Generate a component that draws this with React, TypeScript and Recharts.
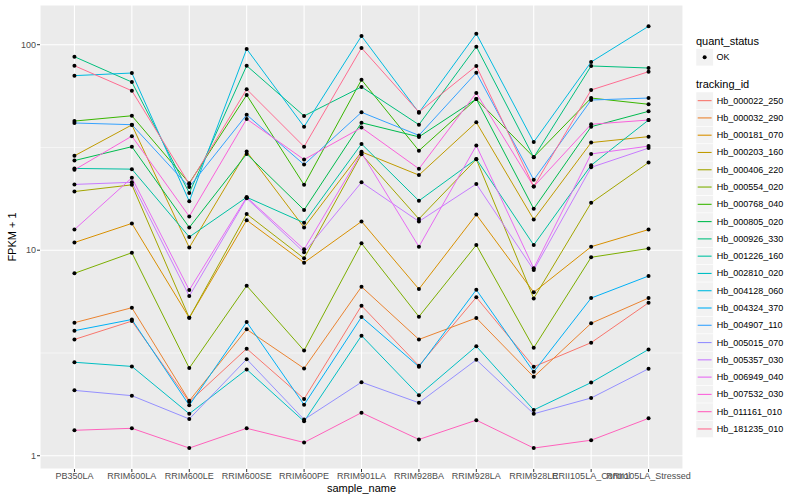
import { CartesianGrid, Line, LineChart, ReferenceLine, XAxis, YAxis } from "recharts";

const SAMPLES = [
  "PB350LA", "RRIM600LA", "RRIM600LE", "RRIM600SE", "RRIM600PE", "RRIM901LA",
  "RRIM928BA", "RRIM928LA", "RRIM928LE", "RRII105LA_Control", "RRII105LA_Stressed",
];
const SAMPLE_TICKS = [0, 1, 2, 3, 4, 5, 6, 7, 8, 9, 10];
const Y_TICKS = [1, 10, 100];
const Y_MINOR = [3.162, 31.62];

const TRACKING_IDS = [
  "Hb_000022_250", "Hb_000032_290", "Hb_000181_070", "Hb_000203_160", "Hb_000406_220",
  "Hb_000554_020", "Hb_000768_040", "Hb_000805_020", "Hb_000926_330", "Hb_001226_160",
  "Hb_002810_020", "Hb_004128_060", "Hb_004324_370", "Hb_004907_110", "Hb_005015_070",
  "Hb_005357_030", "Hb_006949_040", "Hb_007532_030", "Hb_011161_010", "Hb_181235_010",
];

const COLORS = [
  "#F8766D", "#EA8331", "#D89000", "#C09B00", "#A3A500",
  "#7CAE00", "#39B600", "#00BB4E", "#00BF7D", "#00C1A3",
  "#00BFC4", "#00BAE0", "#00B0F6", "#35A2FF", "#9590FF",
  "#C77CFF", "#E76BF3", "#FA62DB", "#FF62BC", "#FF6C91",
];

// FPKM + 1 per sample
const hb000022 = [3.68, 4.52, 1.83, 3.32, 1.89, 5.37, 2.74, 5.9, 2.71, 3.55, 5.55];
const hb000032 = [4.44, 5.25, 1.85, 4.12, 2.66, 6.64, 3.68, 4.68, 2.42, 4.41, 5.85];
const hb000181 = [10.9, 13.5, 4.69, 14.0, 8.7, 13.8, 6.47, 14.9, 6.24, 10.4, 12.6];
const hb000203 = [28.8, 40.7, 10.3, 30.2, 12.9, 30.1, 23.2, 41.9, 14.1, 33.4, 35.7];
const hb000406 = [19.3, 20.8, 4.69, 15.0, 9.13, 29.3, 14.2, 27.7, 5.83, 17.0, 26.7];
const hb000554 = [7.72, 9.72, 2.67, 6.72, 3.25, 10.8, 4.75, 10.6, 3.35, 9.24, 10.2];
const hb000768 = [42.5, 45.1, 21.2, 56.9, 20.8, 67.5, 30.5, 54.4, 28.4, 55.0, 51.3];
const hb000805 = [27.3, 31.9, 12.9, 29.4, 15.7, 41.7, 35.6, 54.4, 15.9, 39.9, 47.4];
const hb000926 = [87.4, 65.8, 19.0, 79.0, 45.0, 62.3, 40.8, 97.8, 28.3, 78.8, 77.0];
const hb001226 = [25.0, 24.8, 11.6, 18.1, 13.6, 32.9, 17.4, 27.8, 10.6, 25.9, 43.0];
const hb002810 = [2.85, 2.72, 1.6, 2.63, 1.47, 3.84, 1.97, 3.41, 1.67, 2.27, 3.29];
const hb004128 = [70.7, 72.8, 17.3, 95.3, 39.9, 110.2, 46.7, 113.1, 33.6, 82.4, 122.9];
const hb004324 = [4.06, 4.6, 1.76, 4.47, 1.77, 4.73, 2.71, 6.42, 2.56, 5.85, 7.49];
const hb004907 = [41.6, 40.8, 20.3, 45.6, 26.1, 46.9, 36.2, 73.1, 22.0, 53.8, 55.0];
const hb005015 = [2.08, 1.96, 1.51, 2.95, 1.5, 2.28, 1.81, 2.93, 1.6, 1.91, 2.65];
const hb005357 = [20.9, 21.4, 5.98, 17.9, 9.77, 21.4, 13.8, 21.0, 8.01, 25.3, 31.4];
const hb006949 = [12.6, 22.5, 6.4, 18.1, 10.1, 29.8, 10.4, 32.3, 8.17, 29.4, 32.1];
const hb007532 = [24.6, 35.9, 14.6, 43.5, 27.6, 39.5, 24.9, 58.2, 20.4, 41.0, 43.0];
const hb011161 = [1.33, 1.36, 1.09, 1.36, 1.16, 1.62, 1.2, 1.49, 1.09, 1.19, 1.52];
const hb181235 = [79.0, 59.7, 21.0, 60.7, 31.9, 96.4, 47.0, 78.8, 20.4, 60.2, 73.9];

const SERIES = [
  hb000022, hb000032, hb000181, hb000203, hb000406,
  hb000554, hb000768, hb000805, hb000926, hb001226,
  hb002810, hb004128, hb004324, hb004907, hb005015,
  hb005357, hb006949, hb007532, hb011161, hb181235,
];

const FONT = '"Liberation Sans", Arial, Helvetica, sans-serif';

const rows = SAMPLES.map((name, i) => {
  const row: Record<string, number | string> = { i, name };
  TRACKING_IDS.forEach((id, k) => {
    row[id] = SERIES[k][i];
  });
  return row;
});

function Overlay() {
  const keySize = 17.28;
  const top = 92;
  return (
    <svg
      width={800}
      height={500}
      style={{ position: "absolute", left: 0, top: 0, pointerEvents: "none", fontFamily: FONT }}
    >
      {/* axis titles */}
      <text x={361.5} y={488} textAnchor="middle" dominantBaseline="central" fontSize={11} fill="#000">
        sample_name
      </text>
      <text
        x={12}
        y={237}
        textAnchor="middle"
        dominantBaseline="central"
        fontSize={11}
        fill="#000"
        transform="rotate(-90 12 237)"
      >
        FPKM + 1
      </text>

      {/* legends */}
      <text x={696} y={40.7} dominantBaseline="central" fontSize={11} fill="#000">
        quant_status
      </text>
      <rect x={696} y={48.6} width={keySize} height={keySize} fill="#F2F2F2" stroke="#fff" strokeWidth={0.5} />
      <circle cx={696 + keySize / 2} cy={48.6 + keySize / 2} r={2} fill="#000" />
      <text x={716.5} y={48.6 + keySize / 2} dominantBaseline="central" fontSize={9} fill="#000">
        OK
      </text>

      <text x={696} y={84} dominantBaseline="central" fontSize={11} fill="#000">
        tracking_id
      </text>
      {TRACKING_IDS.map((id, k) => {
        const y0 = top + k * keySize;
        const cy = y0 + keySize / 2;
        return (
          <g key={id}>
            <rect x={696} y={y0} width={keySize} height={keySize} fill="#F2F2F2" stroke="#fff" strokeWidth={0.5} />
            <line x1={697.7} x2={711.6} y1={cy} y2={cy} stroke={COLORS[k]} strokeWidth={1.1} />
            <text x={716.7} y={cy} dominantBaseline="central" fontSize={9} fill="#000">
              {id}
            </text>
          </g>
        );
      })}
    </svg>
  );
}

export default function App() {
  return (
    <div style={{ position: "absolute", left: 0, top: 0, width: 800, height: 500, background: "#fff", fontFamily: FONT }}>
      <LineChart width={800} height={500} data={rows} margin={{ top: 5, right: 117, bottom: 11, left: 0 }}>
        <CartesianGrid fill="#EBEBEB" fillOpacity={1} stroke="#FFFFFF" strokeWidth={1.1} />
        {Y_MINOR.map((v) => (
          <ReferenceLine key={v} y={v} stroke="#FFFFFF" strokeWidth={0.55} />
        ))}
        <XAxis
          type="number"
          dataKey="i"
          domain={[-0.6, 10.6]}
          ticks={SAMPLE_TICKS}
          interval={0}
          allowDataOverflow
          tickFormatter={(v) => SAMPLES[Math.round(Number(v))] ?? ""}
          height={20}
          axisLine={false}
          tickLine={{ stroke: "#333333" }}
          tickSize={3}
          tickMargin={1}
          tick={{ fill: "#4D4D4D", fontSize: 9, fontFamily: FONT }}
        />
        <YAxis
          type="number"
          scale="log"
          domain={[0.862, 156]}
          allowDataOverflow
          ticks={Y_TICKS}
          width={40}
          axisLine={false}
          tickLine={{ stroke: "#333333" }}
          tickSize={3}
          tickMargin={1}
          tick={{ fill: "#4D4D4D", fontSize: 9, fontFamily: FONT }}
        />
        {TRACKING_IDS.map((id, k) => (
          <Line
            key={id}
            type="linear"
            dataKey={id}
            stroke={COLORS[k]}
            strokeWidth={1}
            dot={false}
            activeDot={false}
            isAnimationActive={false}
          />
        ))}
        {/* points drawn after every line, like geom_point on top */}
        {TRACKING_IDS.map((id) => (
          <Line
            key={`${id}-pts`}
            type="linear"
            dataKey={id}
            stroke="none"
            dot={{ r: 2, fill: "#000", stroke: "none" }}
            activeDot={false}
            legendType="none"
            isAnimationActive={false}
          />
        ))}
      </LineChart>
      <Overlay />
    </div>
  );
}
